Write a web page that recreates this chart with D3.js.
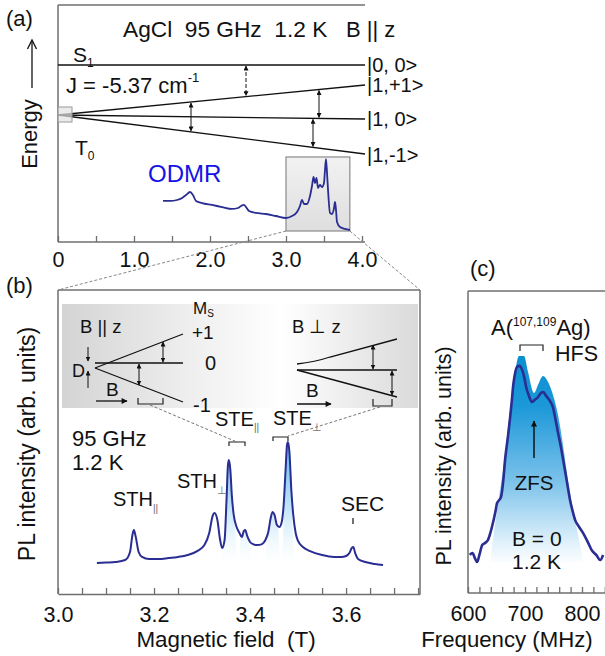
<!DOCTYPE html>
<html><head><meta charset="utf-8">
<script src="https://cdn.jsdelivr.net/npm/d3@7"></script>
<style>
body{margin:0;background:#fff;}
text{font-family:"Liberation Sans",Arial,sans-serif;fill:#111;}
</style></head><body>
<script>
// ---------------- DATA ----------------
// Panel (a): ODMR overview
const odmrField  = [1.382,1.474,1.566,1.632,1.684,1.737,1.776,1.816,1.895,2.026,2.158,2.289,2.368,2.408,2.447,2.474,2.513,2.605,2.737,2.868,3.0,3.079,3.145,3.184,3.211,3.237,3.276,3.316,3.342,3.362,3.382,3.401,3.421,3.447,3.474,3.5,3.513,3.526,3.539,3.553,3.579,3.605,3.632,3.645,3.658,3.671,3.711,3.776,3.842];
const odmrSignal = [0.388,0.388,0.40,0.425,0.462,0.50,0.462,0.388,0.362,0.338,0.312,0.288,0.30,0.325,0.338,0.312,0.262,0.238,0.225,0.20,0.175,0.20,0.25,0.325,0.40,0.35,0.35,0.45,0.575,0.688,0.612,0.675,0.55,0.588,0.562,0.612,0.775,0.912,0.75,0.525,0.238,0.225,0.30,0.375,0.275,0.125,0.062,0.038,0.025];
const aTicks = [0,0.5,1,1.5,2,2.5,3,3.5,4];
const aLabels = ["0","1.0","2.0","3.0","4.0"];

// Panel (b): ODMR high field
const steField  = [3.081,3.10,3.12,3.14,3.150,3.155,3.158,3.162,3.168,3.175,3.19,3.21,3.23,3.25,3.27,3.29,3.305,3.315,3.322,3.326,3.332,3.337,3.342,3.347,3.351,3.354,3.356,3.359,3.362,3.366,3.372,3.378,3.383,3.387,3.390,3.394,3.400,3.406,3.415,3.425,3.432,3.438,3.443,3.447,3.451,3.456,3.461,3.466,3.470,3.474,3.477,3.479,3.482,3.486,3.490,3.495,3.500,3.510,3.525,3.550,3.575,3.590,3.600,3.607,3.612,3.615,3.619,3.625,3.640,3.660,3.677];
const steSignal = [0.086,0.089,0.093,0.107,0.164,0.286,0.321,0.271,0.164,0.129,0.114,0.114,0.121,0.129,0.143,0.171,0.214,0.30,0.421,0.443,0.393,0.264,0.193,0.25,0.536,0.786,0.821,0.75,0.571,0.429,0.343,0.30,0.271,0.314,0.321,0.279,0.236,0.221,0.214,0.221,0.25,0.307,0.407,0.45,0.429,0.357,0.343,0.379,0.50,0.75,0.929,0.95,0.879,0.607,0.429,0.30,0.243,0.20,0.171,0.143,0.129,0.129,0.136,0.157,0.193,0.20,0.157,0.114,0.093,0.079,0.071];
const shadeFields = [3.356,3.390,3.447,3.479];
const shadeHalf   = [0.016,0.012,0.015,0.012];
const bTicks = d3.range(3.0,3.751,0.05);
const bLabels = ["3.0","3.2","3.4","3.6"];

// Panel (c): zero-field PL-detected spectrum
const plFreq   = [603,608,612,616,620,625,630,635,642,648,651,655,658,662,665,670,674,677,679,682,686,690,695,699,702,707,712,717,723,728,732,736,740,745,749,753,758,763,767,773,779,784,788,795,802,810,817,825,832,837];
const plSignal = [0.048,0.057,0.033,0.014,0.048,0.095,0.105,0.119,0.181,0.252,0.295,0.31,0.324,0.405,0.50,0.61,0.705,0.786,0.848,0.905,0.943,0.948,0.929,0.89,0.848,0.805,0.776,0.786,0.80,0.819,0.824,0.81,0.795,0.776,0.752,0.70,0.629,0.562,0.50,0.405,0.31,0.252,0.214,0.181,0.152,0.11,0.071,0.048,0.024,0.048];
const plEnvFreq   = [638.6,650.9,661.4,671.9,680.7,689.5,698.2,705.3,715.8,722.8,731.6,740.4,749.1,757.9,766.7,775.4,786,796.5,801.8];
const plEnvSignal = [0.014,0.262,0.452,0.69,0.881,0.995,0.995,0.919,0.819,0.857,0.90,0.871,0.81,0.714,0.571,0.405,0.238,0.095,0.014];
const cTicks = d3.range(600,841,20);
const cLabels = ["600","700","800"];

// ---------------- DRAW ----------------
const W = 605, H = 656;
const svg = d3.select("body").append("svg").attr("width",W).attr("height",H);
const defs = svg.append("defs");
const frameCol = "#6f6f6f", curveCol = "#2a2d92";

defs.append("marker").attr("id","ah").attr("viewBox","0 0 10 10").attr("refX",9).attr("refY",5)
  .attr("markerWidth",5).attr("markerHeight",5).attr("orient","auto-start-reverse")
  .attr("markerUnits","userSpaceOnUse")
  .append("path").attr("d","M0,0 L10,5 L0,10 z").attr("fill","#111");
defs.append("marker").attr("id","ah2").attr("viewBox","0 0 10 10").attr("refX",9).attr("refY",5)
  .attr("markerWidth",7).attr("markerHeight",6).attr("orient","auto-start-reverse")
  .attr("markerUnits","userSpaceOnUse")
  .append("path").attr("d","M0,0 L10,5 L0,10 z").attr("fill","#111");

function grad(id, x1,y1,x2,y2, stops){
  const g = defs.append("linearGradient").attr("id",id).attr("gradientUnits","userSpaceOnUse")
    .attr("x1",x1).attr("y1",y1).attr("x2",x2).attr("y2",y2);
  stops.forEach(s=>g.append("stop").attr("offset",s[0]).attr("stop-color",s[1]).attr("stop-opacity",s[2]==null?1:s[2]));
}
function line(g,x1,y1,x2,y2,opt={}){
  const l = g.append("line").attr("x1",x1).attr("y1",y1).attr("x2",x2).attr("y2",y2)
    .attr("stroke",opt.c||"#111").attr("stroke-width",opt.w||1.2);
  if(opt.dash) l.attr("stroke-dasharray",opt.dash);
  if(opt.ms) l.attr("marker-start","url(#"+opt.ms+")");
  if(opt.me) l.attr("marker-end","url(#"+opt.me+")");
  return l;
}
function txt(g,x,y,s,size,opt={}){
  const t = g.append("text").attr("x",x).attr("y",y).attr("font-size",size).style("white-space","pre").text(s);
  if(opt.anchor) t.attr("text-anchor",opt.anchor);
  if(opt.fill) t.style("fill",opt.fill);
  if(opt.db) t.attr("dominant-baseline",opt.db);
  return t;
}
function sub(t, s, size, dy, fill){
  const ts = t.append("tspan").attr("font-size",size).attr("dy",dy).text(s);
  if(fill) ts.style("fill",fill);
  return ts;
}
function bracket(g,x1,x2,y,h){
  g.append("path").attr("d",`M${x1},${y+h}V${y}H${x2}V${y+h}`).attr("fill","none").attr("stroke","#222").attr("stroke-width",1.2);
}

// ===== Panel (a) =====
const xA = d3.scaleLinear().domain([0,4]).range([58,362]);
const yA = d3.scaleLinear().domain([0,1]).range([232,152]);
const gA = svg.append("g");
const aRight = xA(4.04);
line(gA,58,5,aRight,5,{c:frameCol,w:1.5});
line(gA,58,5,58,242,{c:frameCol,w:1.5});
const axA = gA.append("g").attr("transform","translate(0,242)")
  .call(d3.axisBottom(xA).tickValues(aTicks).tickSizeInner(-6).tickSizeOuter(0).tickPadding(10)
    .tickFormat(d=> Number.isInteger(d) ? aLabels[d] : ""));
axA.select(".domain").attr("stroke",frameCol).attr("stroke-width",1.5).attr("d",`M58,0H${aRight}`);
axA.selectAll(".tick line").attr("stroke",frameCol).attr("stroke-width",1.3);
axA.selectAll(".tick text").attr("font-size",21.5).attr("font-family","Liberation Sans, Arial, sans-serif").style("fill","#111");

txt(gA,6,26,"(a)",22);
txt(gA,123,37,"AgCl  95 GHz  1.2 K",22.7);
txt(gA,346,37,"B || z",22);
const s1 = txt(gA,73,62,"S",21); sub(s1,"1",12,5);
const jt = txt(gA,66,93,"J = -5.37 cm",22); sub(jt,"-1",13,-11);
const t0 = txt(gA,75,155,"T",21); sub(t0,"0",12,5);

const oy = 115;
line(gA,58,65,aRight,65,{w:1.3});
line(gA,58,oy,aRight,85,{w:1.3});
line(gA,58,oy,aRight,119,{w:1.3});
line(gA,58,oy,aRight,154,{w:1.3});
gA.append("rect").attr("x",58).attr("y",107).attr("width",14).attr("height",15)
  .attr("fill","#e2e2e2").attr("stroke","#9a9a9a").attr("stroke-width",1).attr("fill-opacity",0.7);
const lvlY = (endY,x)=> oy + (endY-oy)*(x-58)/(aRight-58);
txt(gA,aRight+2,65,"|0, 0>",20,{db:"central"});
txt(gA,aRight+2,85,"|1,+1>",20,{db:"central"});
txt(gA,aRight+2,119,"|1, 0>",20,{db:"central"});
txt(gA,aRight+2,155,"|1,-1>",20,{db:"central"});
line(gA,246,66,246,lvlY(85,246)-1,{ms:"ah",me:"ah",dash:"4,2",w:1});
line(gA,319,lvlY(85,319)+1,319,lvlY(119,319)-1,{ms:"ah",me:"ah",w:1});
line(gA,313,lvlY(119,313)+1,313,lvlY(154,313)-1,{ms:"ah",me:"ah",w:1});
line(gA,191,lvlY(85,191)+1,191,lvlY(154,191)-1,{ms:"ah",me:"ah",w:1});

gA.append("text").attr("transform","translate(37,134) rotate(-90)").attr("text-anchor","middle")
  .attr("font-size",22).text("Energy");
line(gA,32,88,32,41,{w:1.3});
gA.append("path").attr("d","M27.5,49 L32,40 L36.5,49").attr("fill","none").attr("stroke","#111").attr("stroke-width",1.3);

grad("boxg",0,157,0,231,[[0,"#f2f2f2"],[1,"#dedede"]]);
gA.append("rect").attr("x",xA(3.0)).attr("y",157).attr("width",xA(3.84)-xA(3.0)).attr("height",74)
  .attr("fill","url(#boxg)").attr("stroke","#8a8a8a").attr("stroke-width",1.2);

txt(gA,148,182,"ODMR",24,{fill:"#1414e6"});
gA.append("path").datum(odmrField.map((f,i)=>[f,odmrSignal[i]]))
  .attr("d",d3.line().x(d=>xA(d[0])).y(d=>yA(d[1])).curve(d3.curveMonotoneX))
  .attr("fill","none").attr("stroke",curveCol).attr("stroke-width",1.8);

line(svg,xA(3.0),231,58,290,{c:"#888",w:1,dash:"3,2"});
line(svg,xA(3.84),231,420,290,{c:"#888",w:1,dash:"3,2"});

// ===== Panel (b) =====
const xB = d3.scaleLinear().domain([3.0,3.754]).range([58,420]);
const yB = d3.scaleLinear().domain([0,1]).range([575,435]);
const gB = svg.append("g");
txt(gB,6,293,"(b)",22);
grad("insL",62,0,282,0,[[0,"#d4d4d4"],[0.55,"#ededed"],[1,"#ffffff"]]);
grad("insR",282,0,418,0,[[0,"#ffffff"],[1,"#dadada"]]);
gB.append("rect").attr("x",62).attr("y",304).attr("width",220).attr("height",104).attr("fill","url(#insL)");
gB.append("rect").attr("x",282).attr("y",304).attr("width",136).attr("height",104).attr("fill","url(#insR)");

line(gB,58,290,420,290,{c:frameCol,w:1.5});
line(gB,58,290,58,594,{c:frameCol,w:1.5});
line(gB,420,290,420,594,{c:frameCol,w:1.5});
const axB = gB.append("g").attr("transform","translate(0,594)")
  .call(d3.axisBottom(xB).tickValues(bTicks).tickSizeInner(-6).tickSizeOuter(0).tickPadding(13)
    .tickFormat((d,i)=> i%4===0 ? bLabels[i/4] : ""));
axB.select(".domain").attr("stroke",frameCol).attr("stroke-width",1.5);
axB.selectAll(".tick line").attr("stroke",frameCol).attr("stroke-width",1.3);
axB.selectAll(".tick text").attr("font-size",21.5).attr("font-family","Liberation Sans, Arial, sans-serif").style("fill","#111");
txt(gB,226,647,"Magnetic field  (T)",22.4,{anchor:"middle"});
gB.append("text").attr("transform","translate(35,444) rotate(-90)").attr("text-anchor","middle")
  .attr("font-size",23).text("PL intensity (arb. units)");

// inset: B || z
const ms = txt(gB,193,314,"M",17); sub(ms,"S",10,3);
txt(gB,80,333,"B || z",18.5);
txt(gB,192,339,"+1",19);
txt(gB,205,370,"0",20);
txt(gB,193,412,"-1",20);
line(gB,95,368,183,334,{w:1.3});
line(gB,95,363,183,363,{w:1.3});
line(gB,95,368,183,402,{w:1.3});
line(gB,163,342,163,362,{ms:"ah",me:"ah",w:1});
line(gB,139,364,139,385,{ms:"ah",me:"ah",w:1});
txt(gB,72,377,"D",18);
line(gB,88,347,88,361,{me:"ah",w:1});
line(gB,88,388,88,371,{me:"ah",w:1});
txt(gB,106,396,"B",19);
line(gB,96,401,127,401,{me:"ah2",w:1.3});
bracket(gB,138,163,404,-6);

// inset: B perp z
txt(gB,292,333,"B \u22a5 z",18.5);
gB.append("path").attr("d","M297,364 Q315,362 330,357 L397,339").attr("fill","none").attr("stroke","#111").attr("stroke-width",1.3);
line(gB,297,370,397,370,{w:1.3});
line(gB,297,370,397,397,{w:1.3});
line(gB,373,345,373,369,{ms:"ah",me:"ah",w:1});
line(gB,392,371,392,395,{ms:"ah",me:"ah",w:1});
txt(gB,306,397,"B",19);
line(gB,297,404,331,404,{me:"ah2",w:1.3});
bracket(gB,373,392,406,-7);

const steP = txt(gB,215,426,"STE",20); sub(steP,"||",10,5,"#666");
const steT = txt(gB,273,425,"STE",20); sub(steT,"\u22a5",11,6,"#777");
bracket(gB,229,245,442,4);
bracket(gB,273,288,437,4);
line(gB,150,405,237,442,{c:"#666",w:0.9,dash:"3,2"});
line(gB,380,407,288,436,{c:"#666",w:0.9,dash:"3,2"});

txt(gB,72,446,"95 GHz",22);
txt(gB,72,470,"1.2 K",22);
const sth1 = txt(gB,113,506,"STH",20); sub(sth1,"||",10,6,"#666");
const sth2 = txt(gB,177,488,"STH",20); sub(sth2,"\u22a5",11,6,"#777");
txt(gB,341,511,"SEC",21);
line(gB,353,518,353,524,{w:1.2});

const steData = steField.map((f,i)=>[f,steSignal[i]]);
defs.append("clipPath").attr("id","underB").append("path").datum(steData)
  .attr("d",d3.area().x(d=>xB(d[0])).y0(yB(0.09)).y1(d=>yB(d[1])).curve(d3.curveMonotoneX));
grad("wedge",0,440,0,565,[[0,"#3fa9e6",0.9],[0.55,"#a9dbf5",0.7],[1,"#ffffff",0.2]]);
const wg = gB.append("g").attr("clip-path","url(#underB)");
wg.selectAll("path").data(shadeFields).join("path")
  .attr("d",(c,i)=>{
    const t = xB(c), hw = xB(c+shadeHalf[i])-t;
    return `M${t-1.5},430 L${t+1.5},430 L${t+hw},${yB(0.09)} L${t-hw},${yB(0.09)} Z`;
  })
  .attr("fill","url(#wedge)");

gB.append("path").datum(steData)
  .attr("d",d3.line().x(d=>xB(d[0])).y(d=>yB(d[1])).curve(d3.curveMonotoneX))
  .attr("fill","none").attr("stroke",curveCol).attr("stroke-width",2);

// ===== Panel (c) =====
const xC = d3.scaleLinear().domain([600,800]).range([468,582]);
const yC = d3.scaleLinear().domain([0,1]).range([565,355]);
const gC = svg.append("g");
txt(gC,470,276,"(c)",22);
line(gC,468,291,W,291,{c:frameCol,w:1.5});
line(gC,468,291,468,593,{c:frameCol,w:1.5});
const axC = gC.append("g").attr("transform","translate(0,593)")
  .call(d3.axisBottom(xC).tickValues(cTicks).tickSizeInner(-6).tickSizeOuter(0).tickPadding(13)
    .tickFormat(d=> d%100===0 ? cLabels[(d-600)/100] : ""));
axC.select(".domain").attr("stroke",frameCol).attr("stroke-width",1.5).attr("d",`M468,0H${W}`);
axC.selectAll(".tick line").attr("stroke",frameCol).attr("stroke-width",1.3);
axC.selectAll(".tick text").attr("font-size",21.5).attr("font-family","Liberation Sans, Arial, sans-serif").style("fill","#111");
txt(gC,507,647,"Frequency (MHz)",22.2,{anchor:"middle"});
gC.append("text").attr("transform","translate(451,456) rotate(-90)").attr("text-anchor","middle")
  .attr("font-size",21.5).text("PL intensity (arb. units)");

grad("plg",0,352,0,565,[[0,"#0a8ed0"],[0.25,"#1b98d8"],[0.6,"#79c1ea"],[0.9,"#e2f2fb"],[1,"#ffffff"]]);
gC.append("path").datum(plEnvFreq.map((f,i)=>[f,plEnvSignal[i]]))
  .attr("d",d3.area().x(d=>xC(d[0])).y0(yC(0.014)).y1(d=>yC(d[1])).curve(d3.curveMonotoneX))
  .attr("fill","url(#plg)");
gC.append("path").datum(plFreq.map((f,i)=>[f,plSignal[i]]))
  .attr("d",d3.line().x(d=>xC(d[0])).y(d=>yC(d[1])).curve(d3.curveMonotoneX))
  .attr("fill","none").attr("stroke",curveCol).attr("stroke-width",2.6);

const at = txt(gC,491,335,"A(",22); sub(at,"107,109",12,-9); sub(at,"Ag)",22,9);
txt(gC,555,361,"HFS",21.5);
bracket(gC,520,543,345,6);
line(gC,534,458,534,421,{me:"ah2",w:1.5});
txt(gC,534,490,"ZFS",20.5,{anchor:"middle"});
txt(gC,512,546,"B = 0",21);
txt(gC,512,569,"1.2 K",21);
</script>
</body></html>
